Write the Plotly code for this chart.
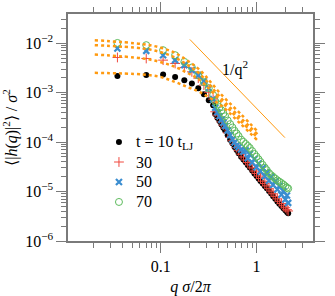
import math
import plotly.graph_objects as go

# ---- data ----
q = [0.0352, 0.0704, 0.1056, 0.141, 0.176, 0.211, 0.246, 0.282, 0.317, 0.352,
     0.37, 0.39, 0.41, 0.43, 0.45, 0.47, 0.50, 0.53, 0.56, 0.59, 0.62, 0.65, 0.69, 0.73,
     0.77, 0.81, 0.85, 0.90, 0.95, 1.00, 1.05, 1.10, 1.16, 1.22, 1.28, 1.35, 1.42, 1.49,
     1.57, 1.65, 1.73, 1.82, 1.91, 2.00, 2.08, 2.14]

h_t10 = [2.18e-3, 2.26e-3, 2.33e-3, 2.08e-3, 1.79e-3, 1.53e-3, 1.23e-3, 9.3e-4, 7.05e-4, 5.59e-4,
         3.68e-4, 3.10e-4, 2.66e-4, 2.27e-4, 1.96e-4, 1.71e-4, 1.37e-4, 1.12e-4, 9.5e-5, 8.0e-5,
         6.9e-5, 5.97e-5, 5.07e-5, 4.43e-5, 3.89e-5, 3.44e-5, 3.07e-5, 2.67e-5, 2.33e-5, 2.07e-5,
         1.84e-5, 1.64e-5, 1.45e-5, 1.29e-5, 1.16e-5, 1.02e-5, 9.08e-6, 8.07e-6, 7.13e-6, 6.31e-6,
         5.67e-6, 5.09e-6, 4.60e-6, 4.17e-6, 3.84e-6, 3.63e-6]

h_t30 = [5.14e-3, 4.91e-3, 4.54e-3, 3.89e-3, 3.23e-3, 2.63e-3, 1.96e-3, 1.42e-3, 1.02e-3, 7.4e-4,
         4.1e-4, 3.5e-4, 3.0e-4, 2.55e-4, 2.2e-4, 1.92e-4, 1.54e-4, 1.25e-4, 1.06e-4, 9.0e-5,
         7.7e-5, 6.7e-5, 5.7e-5, 5.0e-5, 4.35e-5, 3.85e-5, 3.45e-5, 3.0e-5, 2.6e-5, 2.32e-5,
         2.06e-5, 1.84e-5, 1.62e-5, 1.45e-5, 1.3e-5, 1.14e-5, 1.02e-5, 9.0e-6, 8.0e-6, 7.1e-6,
         6.35e-6, 5.7e-6, 5.15e-6, 4.7e-6, 4.3e-6, 4.05e-6]

h_t50 = [7.82e-3, 6.98e-3, 5.72e-3, 4.54e-3, 3.6e-3, 2.85e-3, 2.26e-3, 1.71e-3, 1.23e-3, 7.4e-4,
         4.95e-4, 4.02e-4, 3.32e-4, 2.84e-4, 2.46e-4, 2.13e-4, 1.71e-4, 1.37e-4, 1.13e-4, 9.86e-5,
         8.65e-5, 7.92e-5, 7.08e-5, 6.42e-5, 6.8e-5, 4.7e-5, 5.75e-5, 3.85e-5, 4.55e-5, 3.1e-5,
         3.7e-5, 2.54e-5, 3.0e-5, 2.04e-5, 2.44e-5, 1.66e-5, 1.97e-5, 1.36e-5, 1.61e-5, 1.1e-5,
         1.29e-5, 8.6e-6, 1.02e-5, 6.9e-6, 8.3e-6, 5.9e-6]

h_t70 = [1.01e-2, 9.12e-3, 7.22e-3, 5.72e-3, 4.19e-3, 3.23e-3, 2.26e-3, 1.63e-3, 1.23e-3, 8.9e-4,
         6.70e-4, 5.83e-4, 5.07e-4, 4.37e-4, 3.80e-4, 3.32e-4, 2.73e-4, 2.31e-4, 1.97e-4, 1.69e-4,
         1.49e-4, 1.32e-4, 1.12e-4, 1.01e-4, 9.16e-5, 8.34e-5, 7.60e-5, 6.58e-5, 5.75e-5, 5.07e-5,
         4.48e-5, 3.96e-5, 3.45e-5, 3.04e-5, 2.70e-5, 2.36e-5, 2.14e-5, 1.98e-5, 1.82e-5, 1.68e-5,
         1.58e-5, 1.48e-5, 1.38e-5, 1.28e-5, 1.20e-5, 1.15e-5]

# fitted curves (dotted orange)
q_fit = [0.0204, 0.0648, 0.0977, 0.140, 0.191, 0.256, 0.434, 0.669, 1.03]
fit_t70 = [1.15e-2, 9.55e-3, 8.19e-3, 6.37e-3, 4.39e-3, 2.85e-3, 8.9e-4, 3.85e-4, 1.63e-4]
fit_t50 = [9.12e-3, 7.82e-3, 6.67e-3, 5.14e-3, 3.6e-3, 2.37e-3, 7.4e-4, 3.2e-4, 1.42e-4]
fit_t30 = [5.91e-3, 4.91e-3, 4.19e-3, 3.32e-3, 2.48e-3, 1.79e-3, 6.43e-4, 2.78e-4, 1.23e-4]
fit_t10 = [2.51e-3, 2.33e-3, 2.08e-3, 1.65e-3, 1.29e-3, 1.02e-3, 5.33e-4, 2.42e-4, 1.07e-4]

# 1/q^2 guide line
q_guide = [0.201, 1.98]
h_guide = [1.19e-2, 1.23e-4]
guide_label = "1/q<sup>2</sup>"
guide_label_pos = (0.593, 3.1e-3)   # (q, value) where the label sits

legend_names = ["t = 10 t<sub>LJ</sub>", "30", "50", "70"]
y_tick_vals = [1e-6, 1e-5, 1e-4, 1e-3, 1e-2]
y_tick_text = ["10<sup>\u22126</sup>", "10<sup>\u22125</sup>", "10<sup>\u22124</sup>",
               "10<sup>\u22123</sup>", "10<sup>\u22122</sup>"]
x_tick_vals = [0.1, 1]
x_tick_text = ["0.1", "1"]

BLACK = "#000000"
RED = "#f0483e"
BLUE = "#3a8dd0"
GREEN = "#5dbb5d"
ORANGE = "#ff9a10"
FONT = "Liberation Serif"
AXIS = "#7a7a7a"

styles = [
    dict(symbol="circle", size=6, color=BLACK),
    dict(symbol="cross-thin", size=7, color=RED, line=dict(color=RED, width=1)),
    dict(symbol="x-thin", size=6, color=BLUE, line=dict(color=BLUE, width=2.2)),
    dict(symbol="circle-open", size=7, color=GREEN, line=dict(color=GREEN, width=1)),
]
series = [h_t10, h_t30, h_t50, h_t70]

fig = go.Figure()

for vals, st, nm in zip(series, styles, legend_names):
    fig.add_trace(go.Scatter(x=q, y=vals, mode="markers", name=nm, showlegend=False,
                             marker=st))

for fv in [fit_t10, fit_t30, fit_t50, fit_t70]:
    fig.add_trace(go.Scatter(x=q_fit, y=fv, mode="lines", showlegend=False,
                             line=dict(color=ORANGE, width=2.5, dash="dot", shape="spline"),
                             hoverinfo="skip"))

fig.add_trace(go.Scatter(x=q_guide, y=h_guide, mode="lines", showlegend=False,
                         line=dict(color=ORANGE, width=1)))

fig.add_annotation(x=math.log10(guide_label_pos[0]), y=math.log10(guide_label_pos[1]),
                   xref="x", yref="y", text=guide_label,
                   showarrow=False, font=dict(family=FONT, size=16, color="black"))

# manual legend on an overlay axis spanning the plot area
leg_x_mark = 0.208
leg_x_text = 0.27
leg_rows = [0.436, 0.348, 0.260, 0.172]
for st, nm, yy in zip(styles, legend_names, leg_rows):
    fig.add_trace(go.Scatter(x=[leg_x_mark], y=[yy], mode="markers", marker=st,
                             xaxis="x2", yaxis="y2", showlegend=False, hoverinfo="skip"))
    fig.add_annotation(x=leg_x_text, y=yy, xref="x2", yref="y2", text=nm,
                       xanchor="left", yanchor="middle", showarrow=False,
                       font=dict(family=FONT, size=16, color="black"))

minor_y = [m * 10.0 ** e for e in range(-6, -1) for m in range(2, 10)]
minor_x = [m * 10.0 ** e for e in range(-2, 1) for m in range(2, 10)]

fig.update_xaxes(type="log", range=[-1.97, 0.59],
                 tickvals=x_tick_vals, ticktext=x_tick_text,
                 ticks="outside", ticklen=10, tickwidth=1.2, tickcolor=AXIS,
                 showline=True, linecolor=AXIS, linewidth=1.5, mirror="ticks",
                 showgrid=False, zeroline=False, automargin=False,
                 minor=dict(tickvals=minor_x, ticks="outside", ticklen=5, tickcolor=AXIS,
                            tickwidth=1, showgrid=False),
                 tickfont=dict(family=FONT, size=16, color="black"),
                 title=dict(text="<i>q</i> <i>\u03c3</i>/2<i>\u03c0</i>",
                            font=dict(family=FONT, size=16, color="black"), standoff=8))
fig.update_yaxes(type="log", range=[-6, -1.41],
                 tickvals=y_tick_vals, ticktext=y_tick_text,
                 ticks="outside", ticklen=10, tickwidth=1.2, tickcolor=AXIS,
                 showline=True, linecolor=AXIS, linewidth=1.5, mirror="ticks",
                 showgrid=False, zeroline=False, automargin=False,
                 minor=dict(tickvals=minor_y, ticks="outside", ticklen=5, tickcolor=AXIS,
                            tickwidth=1, showgrid=False),
                 tickfont=dict(family=FONT, size=16, color="black"),
                 title=dict(text="\u27e8|<i>h</i>(<i>q</i>)|<sup>2</sup>\u27e9 / <i>\u03c3</i><sup>2</sup>",
                            font=dict(family=FONT, size=16, color="black"), standoff=4))

fig.update_layout(
    width=335, height=296,
    margin=dict(l=68, r=22, t=14, b=55),
    paper_bgcolor="white", plot_bgcolor="white",
    font=dict(family=FONT, size=16, color="black"),
    showlegend=False,
    xaxis2=dict(overlaying="x", range=[0, 1], visible=False, fixedrange=True),
    yaxis2=dict(overlaying="y", range=[0, 1], visible=False, fixedrange=True),
)

fig.write_html("out.html", config={"displayModeBar": False},
               post_script="document.body.style.margin='0';document.body.style.padding='0';")
